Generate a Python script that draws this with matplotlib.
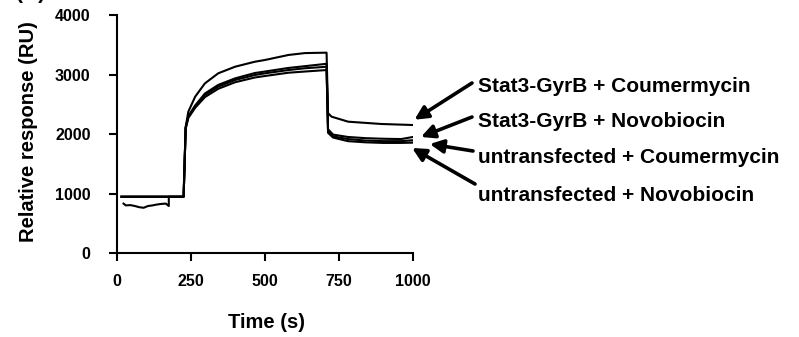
import matplotlib
matplotlib.use("Agg")
import matplotlib.pyplot as plt

plt.rcParams['font.family'] = ['Liberation Sans', 'DejaVu Sans']
plt.rcParams['font.weight'] = 'bold'

# sensorgram traces (time in s, response in RU)
t_stat3_cou = [15, 225, 232, 241, 264, 297, 342, 399, 466, 500, 579, 635, 708,
               713, 725, 781, 894, 1000]
ru_stat3_cou = [946, 946, 2120, 2375, 2627, 2851, 3020, 3131, 3215, 3244, 3328, 3360, 3367,
                2350, 2291, 2207, 2168, 2151]

t_stat3_nov = [15, 225, 232, 241, 264, 297, 342, 399, 466, 500, 579, 635, 708,
               713, 730, 780, 840, 900, 960, 1000]
ru_stat3_nov = [946, 946, 2110, 2300, 2480, 2680, 2825, 2935, 3025, 3050, 3110, 3140, 3180,
                2080, 1990, 1950, 1930, 1920, 1915, 1950]

t_untr_cou = [15, 225, 232, 241, 264, 297, 342, 399, 466, 500, 579, 635, 708,
              713, 730, 780, 840, 900, 960, 1000]
ru_untr_cou = [946, 946, 2100, 2290, 2460, 2655, 2796, 2908, 2992, 3020, 3075, 3105, 3130,
               2050, 1960, 1915, 1890, 1880, 1880, 1895]

t_untr_nov = [22, 30, 45, 60, 75, 90, 105, 120, 135, 150, 165, 175, 175, 225, 232, 241, 264,
              297, 342, 399, 466, 500, 579, 635, 708, 713, 730, 780, 840, 900, 960, 1000]
ru_untr_nov = [830, 800, 805, 790, 770, 760, 790, 800, 815, 825, 830, 790, 946, 946, 2090,
               2270, 2440, 2620, 2760, 2870, 2950, 2975, 3030, 3050, 3075, 2020, 1940, 1880,
               1860, 1850, 1850, 1855]

labels = ["Stat3-GyrB + Coumermycin", "Stat3-GyrB + Novobiocin",
          "untransfected + Coumermycin", "untransfected + Novobiocin"]
# where each arrow points (data coords)
arrow_heads = [(1005, 2240), (1027, 1950), (1057, 1832), (997, 1765)]

fig = plt.figure(figsize=(7.99, 3.37), dpi=100)
ax = fig.add_axes([117/799, 1 - 253/337, 296/799, 238/337])

for t, v in [(t_stat3_cou, ru_stat3_cou), (t_stat3_nov, ru_stat3_nov),
             (t_untr_cou, ru_untr_cou), (t_untr_nov, ru_untr_nov)]:
    ax.plot(t, v, color='k', lw=1.5)

ax.set_xlim(0, 1000)
ax.set_ylim(0, 4000)
ax.set_xticks([0, 250, 500, 750, 1000])
ax.set_yticks([0, 1000, 2000, 3000, 4000])
ax.spines['top'].set_visible(False)
ax.spines['right'].set_visible(False)
for s in ['left', 'bottom']:
    ax.spines[s].set_linewidth(1.5)
ax.tick_params(axis='both', width=1.5, length=6, labelsize=11.5)
ax.tick_params(axis='y', pad=13)
ax.tick_params(axis='x', pad=9)
for lab in ax.get_xticklabels() + ax.get_yticklabels():
    lab.set_fontweight('bold')

fig.text(29/799, 1 - 132/337, "Relative response (RU)", rotation=90,
         ha='center', va='center', fontsize=14.5, fontweight='bold')
fig.text(267/799, 1 - 322/337, "Time (s)", ha='center', va='center',
         fontsize=14.5, fontweight='bold')
fig.text(16/799, 1 + 1/337, "(A)", ha='left', va='baseline',
         fontsize=15, fontweight='bold')

# label rows: baseline y (px from top), arrow tail (px)
text_base = [92, 127, 163, 201]
tails = [(472, 83), (472, 117), (473, 151), (475, 184)]
for lab, yb, head, tail in zip(labels, text_base, arrow_heads, tails):
    fig.text(478/799, 1 - yb/337, lab, ha='left', va='baseline',
             fontsize=15, fontweight='bold')
    ax.annotate('', xy=head, xycoords='data',
                xytext=(tail[0], 337 - tail[1]), textcoords='figure pixels',
                annotation_clip=False,
                arrowprops=dict(arrowstyle='-|>', color='k', lw=2.6,
                                mutation_scale=20, shrinkA=0, shrinkB=0))

fig.savefig("out.png", dpi=100)
